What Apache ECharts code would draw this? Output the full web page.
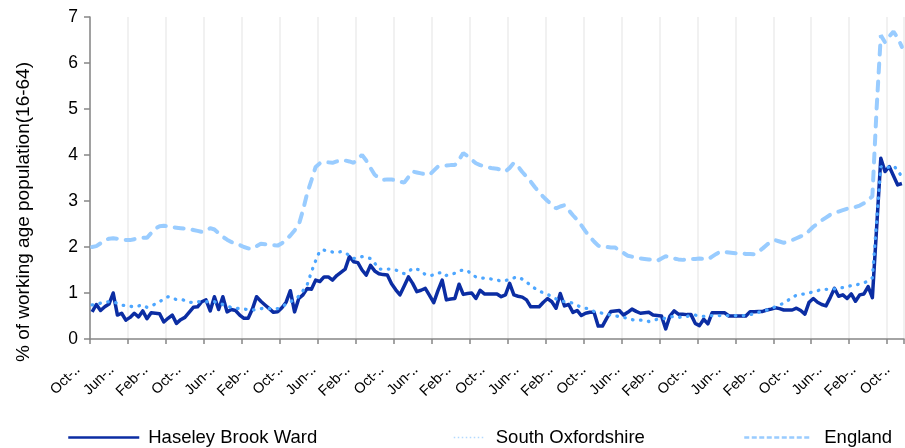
<!DOCTYPE html>
<html>
<head>
<meta charset="utf-8">
<title>Claimant count - Haseley Brook Ward</title>
<script src="https://cdn.jsdelivr.net/npm/echarts@6/dist/echarts.min.js"></script>
<style>
  html, body { margin: 0; padding: 0; background: #fff; }
  #chart { width: 905px; height: 448px; }
</style>
</head>
<body>
<div id="chart"></div>
<script>
// monthly categories, Oct 2004 .. Oct 2020
const monthNames = ["Jan", "Feb", "Mar", "Apr", "May", "Jun", "Jul", "Aug", "Sep", "Oct", "Nov", "Dec"];
const months = [];
for (let i = 0; i < 193; i++) {
  const m = 9 + i;
  const yy = String((2004 + Math.floor(m / 12)) % 100).padStart(2, "0");
  months.push(monthNames[m % 12] + "-" + yy);
}

const yTicks = [0, 1, 2, 3, 4, 5, 6, 7];
const yTitle = "% of working age population(16-64)";
const seriesNames = ["Haseley Brook Ward", "South Oxfordshire", "England"];

// % of working age population
const haseley = [
  0.59, 0.75, 0.62, 0.70, 0.76, 1.00, 0.52, 0.56, 0.41, 0.47,
  0.56, 0.48, 0.61, 0.44, 0.57, 0.56, 0.55, 0.37, 0.45, 0.52,
  0.34, 0.42, 0.47, 0.58, 0.69, 0.70, 0.81, 0.85, 0.61, 0.92,
  0.64, 0.92, 0.59, 0.64, 0.62, 0.52, 0.45, 0.45, 0.65, 0.92,
  0.82, 0.74, 0.66, 0.58, 0.59, 0.68, 0.80, 1.05, 0.59, 0.88,
  0.96, 1.10, 1.08, 1.28, 1.25, 1.35, 1.35, 1.28, 1.38, 1.45,
  1.52, 1.79, 1.68, 1.66, 1.50, 1.39, 1.60, 1.48, 1.42, 1.40,
  1.39, 1.20, 1.07, 0.96, 1.15, 1.35, 1.21, 1.03, 1.06, 1.10,
  0.95, 0.79, 1.05, 1.28, 0.85, 0.87, 0.88, 1.19, 0.97, 0.99,
  1.00, 0.88, 1.06, 0.98, 0.98, 0.98, 0.98, 0.92, 0.96, 1.21,
  0.96, 0.93, 0.91, 0.85, 0.70, 0.70, 0.70, 0.80, 0.88, 0.81,
  0.67, 0.99, 0.72, 0.75, 0.58, 0.62, 0.51, 0.56, 0.58, 0.58,
  0.28, 0.28, 0.45, 0.60, 0.61, 0.62, 0.52, 0.58, 0.65, 0.60,
  0.56, 0.57, 0.58, 0.52, 0.51, 0.50, 0.22, 0.50, 0.61, 0.54,
  0.54, 0.53, 0.53, 0.34, 0.29, 0.43, 0.33, 0.57, 0.57, 0.57,
  0.57, 0.50, 0.50, 0.50, 0.50, 0.50, 0.59, 0.59, 0.60, 0.60,
  0.63, 0.65, 0.68, 0.66, 0.63, 0.63, 0.63, 0.67, 0.62, 0.54,
  0.80, 0.88, 0.80, 0.75, 0.72, 0.90, 1.10, 0.93, 0.96, 0.88,
  0.98, 0.82, 0.96, 0.98, 1.14, 0.90, 2.40, 3.93, 3.64, 3.75,
  3.55, 3.35, 3.38
];

const southOxon = [
  0.74, 0.75, 0.78, 0.80, 0.81, 0.80, 0.78, 0.74, 0.72, 0.71,
  0.70, 0.72, 0.74, 0.69, 0.72, 0.76, 0.81, 0.87, 0.92, 0.88,
  0.86, 0.86, 0.84, 0.80, 0.79, 0.81, 0.81, 0.81, 0.81, 0.81,
  0.78, 0.75, 0.71, 0.69, 0.67, 0.66, 0.65, 0.64, 0.63, 0.64,
  0.66, 0.67, 0.66, 0.65, 0.66, 0.70, 0.76, 0.81, 0.85, 0.93,
  1.05, 1.18, 1.46, 1.70, 1.92, 1.93, 1.92, 1.89, 1.88, 1.90,
  1.87, 1.82, 1.75, 1.77, 1.79, 1.77, 1.75, 1.65, 1.52, 1.52,
  1.52, 1.52, 1.50, 1.46, 1.42, 1.46, 1.54, 1.52, 1.48, 1.40,
  1.38, 1.39, 1.43, 1.45, 1.38, 1.40, 1.43, 1.48, 1.50, 1.49,
  1.40, 1.35, 1.33, 1.32, 1.31, 1.30, 1.28, 1.26, 1.27, 1.30,
  1.33, 1.35, 1.30, 1.24, 1.16, 1.10, 1.05, 1.00, 0.97, 0.92,
  0.87, 0.84, 0.81, 0.80, 0.78, 0.73, 0.69, 0.67, 0.65, 0.60,
  0.58, 0.56, 0.54, 0.52, 0.50, 0.49, 0.47, 0.45, 0.42, 0.41,
  0.41, 0.40, 0.38, 0.40, 0.43, 0.44, 0.45, 0.48, 0.49, 0.47,
  0.48, 0.49, 0.51, 0.52, 0.50, 0.49, 0.50, 0.51, 0.51, 0.51,
  0.51, 0.51, 0.51, 0.51, 0.51, 0.51, 0.53, 0.55, 0.58, 0.60,
  0.63, 0.67, 0.70, 0.74, 0.78, 0.84, 0.91, 0.95, 0.97, 0.98,
  1.00, 1.03, 1.05, 1.08, 1.08, 1.08, 1.09, 1.10, 1.12, 1.14,
  1.16, 1.17, 1.20, 1.22, 1.26, 1.33, 2.55, 3.75, 3.71, 3.74,
  3.77, 3.67, 3.52
];

const england = [
  2.00, 2.02, 2.08, 2.15, 2.18, 2.19, 2.18, 2.16, 2.15, 2.15,
  2.17, 2.19, 2.20, 2.20, 2.30, 2.40, 2.45, 2.46, 2.45, 2.43,
  2.42, 2.41, 2.40, 2.39, 2.37, 2.35, 2.33, 2.35, 2.41, 2.38,
  2.30, 2.22, 2.16, 2.11, 2.07, 2.04, 2.00, 1.97, 1.96, 2.02,
  2.07, 2.06, 2.05, 2.04, 2.03, 2.08, 2.16, 2.25, 2.36, 2.48,
  2.80, 3.17, 3.45, 3.74, 3.82, 3.85, 3.84, 3.83, 3.86, 3.89,
  3.88, 3.86, 3.83, 3.92, 4.00, 3.88, 3.72, 3.57, 3.50, 3.46,
  3.47, 3.47, 3.45, 3.42, 3.40, 3.52, 3.64, 3.62, 3.60, 3.58,
  3.57, 3.66, 3.75, 3.76, 3.77, 3.78, 3.78, 3.90, 4.04, 3.98,
  3.90, 3.82, 3.78, 3.75, 3.73, 3.71, 3.70, 3.68, 3.64, 3.72,
  3.83, 3.75, 3.63, 3.53, 3.42, 3.30, 3.19, 3.09, 3.00, 2.92,
  2.84, 2.88, 2.91, 2.80, 2.69, 2.59, 2.47, 2.34, 2.22, 2.12,
  2.03, 2.00, 2.00, 1.99, 1.99, 1.93, 1.87, 1.81, 1.79, 1.77,
  1.75, 1.74, 1.73, 1.72, 1.70, 1.75, 1.80, 1.78, 1.75, 1.73,
  1.72, 1.73, 1.74, 1.74, 1.75, 1.74, 1.73, 1.79, 1.85, 1.90,
  1.89, 1.88, 1.87, 1.86, 1.86, 1.85, 1.85, 1.84, 1.90, 1.97,
  2.05, 2.12, 2.15, 2.12, 2.09, 2.12, 2.15, 2.19, 2.23, 2.26,
  2.35, 2.44, 2.51, 2.58, 2.64, 2.70, 2.74, 2.77, 2.80, 2.83,
  2.85, 2.87, 2.90, 2.95, 3.03, 3.10, 5.00, 6.60, 6.45, 6.58,
  6.68, 6.55, 6.35
];

const FONT = '"Liberation Sans", Arial, sans-serif';
const AXIS_GREY = "#868686";

const chart = echarts.init(document.getElementById("chart"), null, { renderer: "canvas" });

// one legend per series so each can sit where the original put it
function legendFor(name, left, width, textGap, lineStyle) {
  return {
    data: [name],
    left: left,
    top: 428,
    padding: 0,
    itemWidth: width,
    itemHeight: 18,
    selectedMode: false,
    itemStyle: { opacity: 0 }, // hide the symbol, keep the line
    lineStyle: lineStyle,
    textStyle: { fontFamily: FONT, fontSize: 18.5, color: "#000", padding: [0, 0, 0, textGap] },
  };
}

const option = {
  animation: false,
  backgroundColor: "#fff",
  textStyle: { fontFamily: FONT },
  grid: { left: 90, right: 1, top: 17, bottom: 109, containLabel: false, outerBoundsMode: "none" },
  xAxis: {
    type: "category",
    data: months,
    boundaryGap: true,
    axisLine: { lineStyle: { color: AXIS_GREY, width: 1.5 } },
    axisTick: { show: true, interval: 8, length: 5, lineStyle: { color: AXIS_GREY, width: 1.5 } },
    splitLine: { show: true, interval: 8, lineStyle: { color: "#ececec", width: 1.5 } },
    axisLabel: {
      interval: 7,
      rotate: 45,
      fontSize: 14.5,
      color: "#000",
      margin: 14,
      padding: [0, 20, 0, 0],
      formatter: (v) => v.slice(0, 4) + "\u2025",
    },
  },
  yAxis: {
    type: "value",
    min: yTicks[0],
    max: yTicks[yTicks.length - 1],
    interval: 1,
    name: yTitle,
    nameLocation: "middle",
    nameRotate: 90,
    nameGap: 57,
    nameTextStyle: { fontSize: 19, color: "#000", padding: [0, 68, 0, 0] },
    axisLine: { show: true, lineStyle: { color: AXIS_GREY, width: 1.5 } },
    axisTick: { show: true, length: 6, lineStyle: { color: AXIS_GREY, width: 1.5 } },
    splitLine: { show: false },
    axisLabel: { fontSize: 17.5, color: "#000", margin: 12 },
  },
  legend: [
    legendFor(seriesNames[0], 67, 71, 4, { width: 2.5 }),
    legendFor(seriesNames[1], 453, 31, 6, { width: 1.5, type: [1.5, 2.5], cap: "butt", color: "#b3d9ff" }),
    legendFor(seriesNames[2], 743, 67, 8, { width: 2.5, type: [5, 2.5], cap: "butt" }),
  ],
  series: [
    {
      name: seriesNames[0],
      type: "line",
      data: haseley,
      symbol: "none",
      itemStyle: { color: "#0b2da3" },
      lineStyle: { color: "#0b2da3", width: 3.5, join: "round" },
      z: 3,
    },
    {
      name: seriesNames[1],
      type: "line",
      data: southOxon,
      symbol: "none",
      itemStyle: { color: "#4da6ff" },
      lineStyle: { color: "#4da6ff", width: 3.3, type: [0.5, 7.5], cap: "round" },
      z: 4,
    },
    {
      name: seriesNames[2],
      type: "line",
      data: england,
      symbol: "none",
      itemStyle: { color: "#99ccff" },
      lineStyle: { color: "#99ccff", width: 4, type: [9, 9], cap: "round" },
      z: 5,
    },
  ],
};

chart.setOption(option);
</script>
</body>
</html>
